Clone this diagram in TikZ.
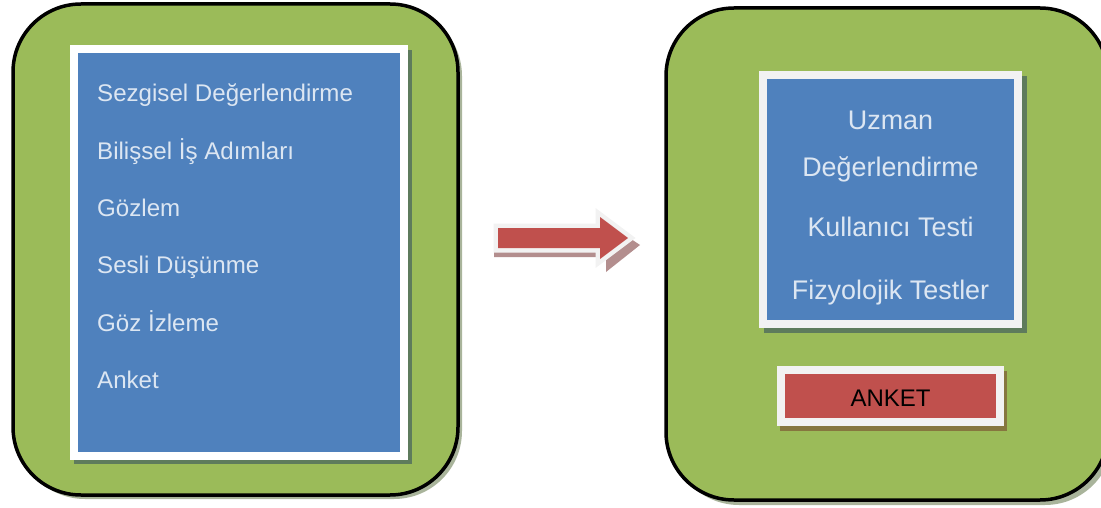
\documentclass[tikz,border=0pt]{standalone}
\usepackage{fontspec}
\setmainfont{Liberation Sans}
\definecolor{grn}{HTML}{9BBB59}
\definecolor{blu}{HTML}{4F81BD}
\definecolor{redf}{HTML}{C0504D}
\definecolor{txtc}{HTML}{DCE6F2}
\definecolor{gshadow}{HTML}{A9B49B}
\definecolor{bshadow}{HTML}{5E7B5C}
\definecolor{rshadow}{HTML}{86763F}
\definecolor{ashadow}{HTML}{B38E8E}
\definecolor{framec}{HTML}{F2F2F2}
\begin{document}
\begin{tikzpicture}[x=1pt,y=-1pt,
  panel/.style={draw=black, line width=3.5pt, fill=grn, rounded corners=68pt},
  panelshadow/.style={fill=gshadow, rounded corners=68pt},
  boxshadow/.style={fill=bshadow},
  litem/.style={anchor=base west, inner sep=0pt, text=txtc, font=\fontsize{24.1}{28}\selectfont},
  ritem/.style={anchor=base, inner sep=0pt, text=txtc, font=\fontsize{26.9}{30}\selectfont},
  arrowshape/.style={fill=redf, draw=framec, line width=9pt, line join=miter}
]
\useasboundingbox (0,0) rectangle (1101,508);

% left panel
\fill[panelshadow] (17,8) rectangle (462,499);
\draw[panel] (13,4) rectangle (458,495);
\fill[boxshadow] (74,50) rectangle (412,464);
\fill[white] (70,45) rectangle (408,460);
\fill[blu] (78,53) rectangle (400,452);

\node[litem] (l1) at (97,102) {Sezgisel Değerlendirme};
\node[litem] (l2) at (97,159.3) {Bilişsel İş Adımları};
\node[litem] (l3) at (97,216.6) {Gözlem};
\node[litem] (l4) at (97,273.9) {Sesli Düşünme};
\node[litem] (l5) at (97,331.2) {Göz İzleme};
\node[litem] (l6) at (97,388.5) {Anket};

% right panel
\fill[panelshadow] (671,13) rectangle (1113,505);
\draw[panel] (666,8) rectangle (1108,500);
\fill[boxshadow] (764,76) rectangle (1027,333);
\fill[framec] (759,71) rectangle (1022,328);
\fill[blu] (767,79) rectangle (1014,320);

\node[ritem] (r1) at (890.5,129.3) {Uzman};
\node[ritem] (r2) at (890.5,176.7) {Değerlendirme};
\node[ritem] (r3) at (890.5,236.7) {Kullanıcı Testi};
\node[ritem] (r4) at (890.5,299.3) {Fizyolojik Testler};

\fill[rshadow] (780,371) rectangle (1007,431);
\fill[framec] (777,366) rectangle (1004,426);
\fill[redf] (785,374) rectangle (996,418);
\node[anchor=base, inner sep=0pt, text=black, font=\fontsize{24}{28}\selectfont] (ank) at (890.5,406) {ANKET};

% block arrow
\fill[ashadow] (494,236) -- (606,236) -- (606,222) -- (640,245) -- (606,272) -- (606,257) -- (494,257) -- cycle;
\draw[arrowshape] (498,228) -- (600,228) -- (600,217) -- (628,238) -- (600,259) -- (600,248) -- (498,248) -- cycle;
\fill[redf] (498,228) -- (600,228) -- (600,217) -- (628,238) -- (600,259) -- (600,248) -- (498,248) -- cycle;
\end{tikzpicture}
\end{document}
